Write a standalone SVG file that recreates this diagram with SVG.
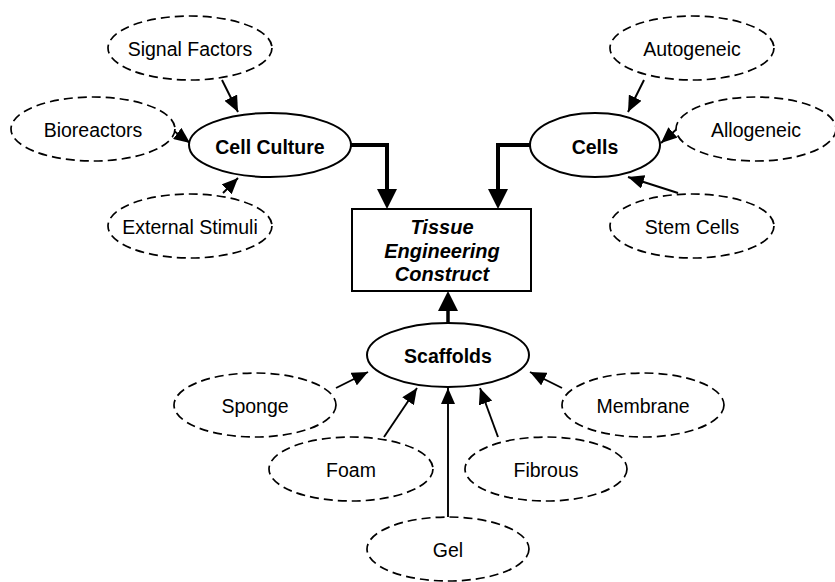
<svg xmlns="http://www.w3.org/2000/svg" width="835" height="582" viewBox="0 0 835 582">
<style>
.bg{fill:#fff}
.opt{fill:#fff;stroke:#000;stroke-width:1.7;stroke-dasharray:9 5}
.main{fill:#fff;stroke:#000;stroke-width:2}
.box{fill:#fff;stroke:#000;stroke-width:2}
text{font-family:"Liberation Sans",Arial,sans-serif;font-size:19.5px;text-anchor:middle;fill:#000}
.b{font-weight:bold}
.bi{font-weight:bold;font-style:italic;font-size:20px}
.thin{fill:none;stroke:#000;stroke-width:1.9;marker-end:url(#ah)}
.thick{fill:none;stroke:#000;stroke-width:4;marker-end:url(#ahb)}
.mid{fill:none;stroke:#000;stroke-width:3.5;marker-end:url(#ahb)}
</style>
<defs>
<marker id="ah" markerUnits="userSpaceOnUse" markerWidth="16" markerHeight="14" refX="16" refY="7" orient="auto" viewBox="0 0 16 14">
<path d="M0,0 L16,7 L0,14 z" fill="#000"/>
</marker>
<marker id="ahb" markerUnits="userSpaceOnUse" markerWidth="20" markerHeight="20" refX="10" refY="10" orient="auto" viewBox="0 0 20 20">
<path d="M0,0 L20,10 L0,20 z" fill="#000"/>
</marker>
</defs>
<rect class="bg" width="835" height="582"/>
<g id="connectors">
<path class="thin" d="M222,80 L238,112"/>
<path class="thin" d="M170,128 L190,143"/>
<path class="thin" d="M223,193 L238,178"/>
<path class="thin" d="M644,80 L628,112"/>
<path class="thin" d="M678,128 L661,143"/>
<path class="thin" d="M678,193 L628,177"/>
<path class="thin" d="M336,388 L368,372"/>
<path class="thin" d="M562,388 L530,372"/>
<path class="thin" d="M384,437 L417,388"/>
<path class="thin" d="M498,437 L480,388"/>
<path class="thin" d="M448,517 L448,388"/>
<path class="thick" d="M351,145 H387 V199"/>
<path class="thick" d="M531,145 H498 V199"/>
<path class="mid" d="M448,323 V301"/>
</g>
<g id="signal-factors"><ellipse class="opt" cx="190" cy="48" rx="82" ry="32"/><text x="190" y="56">Signal Factors</text></g>
<g id="bioreactors"><ellipse class="opt" cx="93" cy="129" rx="82" ry="32"/><text x="93" y="137">Bioreactors</text></g>
<g id="external-stimuli"><ellipse class="opt" cx="190" cy="226" rx="82" ry="32"/><text x="190" y="234">External Stimuli</text></g>
<g id="cell-culture"><ellipse class="main" cx="270" cy="145" rx="81" ry="32"/><text class="b" x="270" y="154">Cell Culture</text></g>
<g id="cells"><ellipse class="main" cx="595" cy="145" rx="65" ry="32"/><text class="b" x="595" y="154">Cells</text></g>
<g id="autogeneic"><ellipse class="opt" cx="692" cy="48" rx="82" ry="32"/><text x="692" y="56">Autogeneic</text></g>
<g id="allogeneic"><ellipse class="opt" cx="756" cy="129" rx="80" ry="32"/><text x="756" y="137">Allogeneic</text></g>
<g id="stem-cells"><ellipse class="opt" cx="692" cy="226" rx="82" ry="32"/><text x="692" y="234">Stem Cells</text></g>
<g id="construct"><rect class="box" x="352" y="209" width="179" height="82"/>
<text class="bi" x="442" y="234">Tissue</text>
<text class="bi" x="442" y="258">Engineering</text>
<text class="bi" x="442" y="281">Construct</text></g>
<g id="scaffolds"><ellipse class="main" cx="448" cy="355" rx="81" ry="32"/><text class="b" x="448" y="363">Scaffolds</text></g>
<g id="sponge"><ellipse class="opt" cx="255" cy="405" rx="81" ry="32"/><text x="255" y="413">Sponge</text></g>
<g id="membrane"><ellipse class="opt" cx="643" cy="405" rx="81" ry="32"/><text x="643" y="413">Membrane</text></g>
<g id="foam"><ellipse class="opt" cx="351" cy="469" rx="82" ry="32"/><text x="351" y="477">Foam</text></g>
<g id="fibrous"><ellipse class="opt" cx="546" cy="469" rx="81" ry="32"/><text x="546" y="477">Fibrous</text></g>
<g id="gel"><ellipse class="opt" cx="448" cy="549" rx="81" ry="32"/><text x="448" y="557">Gel</text></g>
</svg>
